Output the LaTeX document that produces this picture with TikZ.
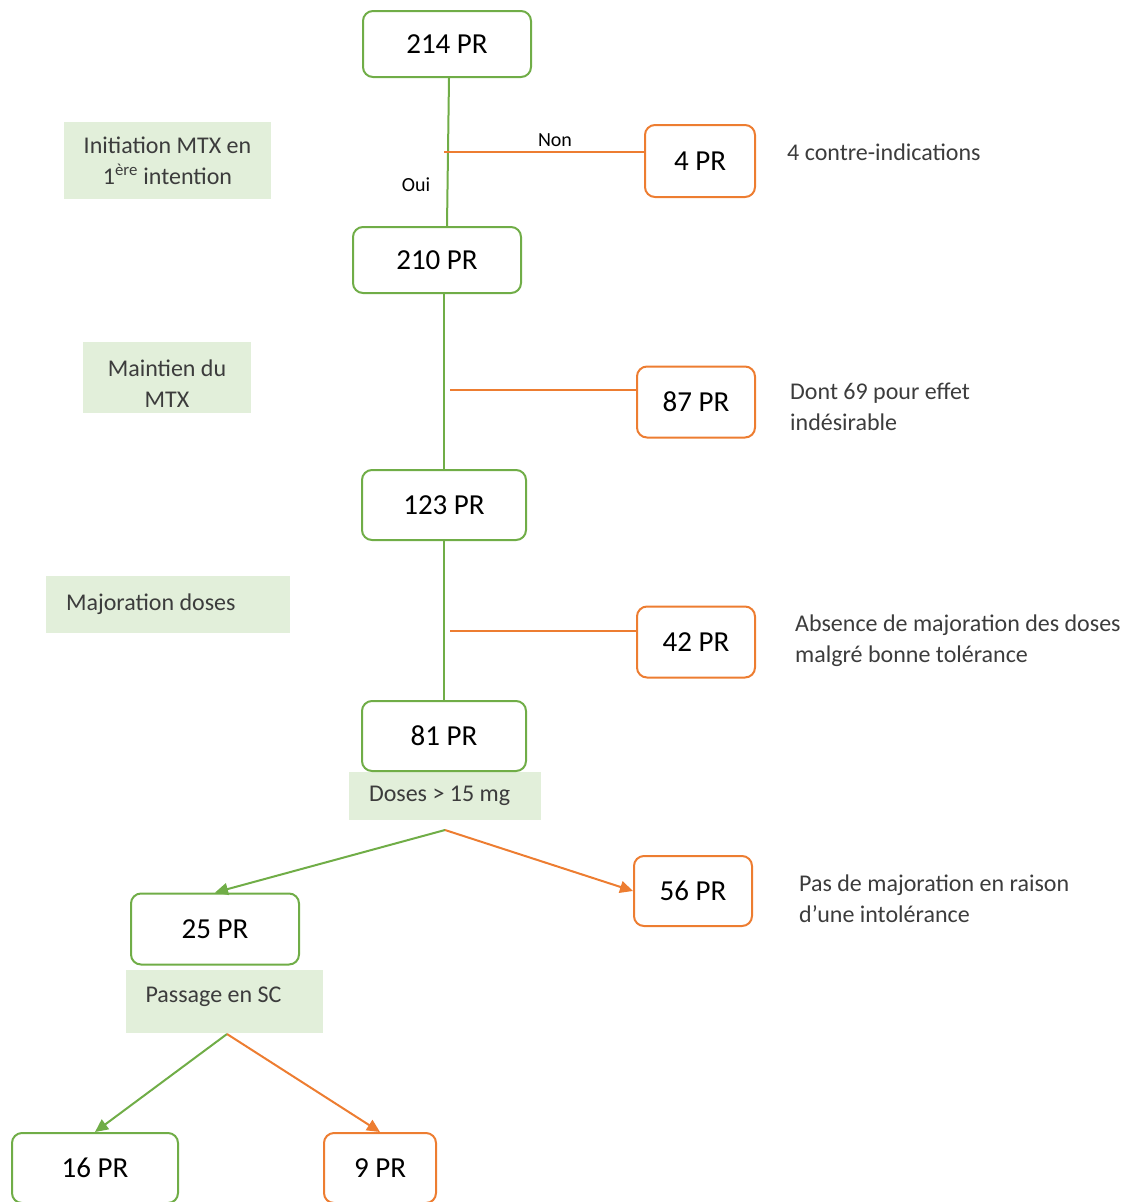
\documentclass[tikz,border=0pt]{standalone}
\usepackage{fontspec}
\setmainfont{Carlito}
\usetikzlibrary{arrows.meta}
\definecolor{vert}{RGB}{112,173,71}
\definecolor{orangepr}{RGB}{237,125,49}
\definecolor{vertclair}{RGB}{226,239,218}
\definecolor{texte}{RGB}{60,60,60}

\begin{document}
\begin{tikzpicture}[x=1pt, y=-1pt,
	boxv/.style={draw=vert, line width=2pt, rounded corners=10pt, inner sep=0pt, font=\fontsize{29}{32}\selectfont},
	boxo/.style={boxv, draw=orangepr},
	etape/.style={fill=vertclair, inner sep=0pt, font=\fontsize{24}{31}\selectfont, text=texte},
	note/.style={anchor=west, align=left, inner sep=0pt, font=\fontsize{24}{31}\selectfont, text=texte},
	lienv/.style={vert, line width=2pt},
	lieno/.style={orangepr, line width=2pt},
	fl/.style={-{Triangle[length=13pt,width=12pt]}}]

	\useasboundingbox (0,0) rectangle (1134,1202);

	% etapes
	\node[etape, minimum width=207, minimum height=77, align=center] (init) at (167.5,160.5) {Initiation MTX en\\1\textsuperscript{ère} intention};
	\node[etape, minimum width=168, minimum height=71, align=center, text height=59pt] (maint) at (167,377.5) {Maintien du\\MTX};
	\node[etape, minimum width=244, minimum height=57, text width=204, align=flush left] (major) at (168,604.5) {Majoration doses};
	\node[etape, minimum width=192, minimum height=48, text width=152, align=flush left] (doses) at (445,796) {Doses > 15 mg};
	\node[etape, minimum width=197, minimum height=63, text width=158, align=flush left, text depth=14pt] (sc) at (224.5,1001.5) {Passage en SC};

	% effectifs
	\node[boxv, minimum width=168, minimum height=66] (n214) at (447,44) {214 PR};
	\node[boxo, minimum width=110, minimum height=72] (n4) at (700,161) {4 PR};
	\node[boxv, minimum width=168, minimum height=66] (n210) at (437,260) {210 PR};
	\node[boxo, minimum width=118, minimum height=71] (n87) at (696,402) {87 PR};
	\node[boxv, minimum width=164, minimum height=70] (n123) at (444,505) {123 PR};
	\node[boxo, minimum width=118, minimum height=71] (n42) at (696,642) {42 PR};
	\node[boxv, minimum width=164, minimum height=70] (n81) at (444,736) {81 PR};
	\node[boxv, minimum width=168, minimum height=71] (n25) at (215,929) {25 PR};
	\node[boxo, minimum width=118, minimum height=70] (n56) at (693,891) {56 PR};
	\node[boxv, minimum width=166, minimum height=70] (n16) at (95,1168) {16 PR};
	\node[boxo, minimum width=112, minimum height=70] (n9) at (380,1168) {9 PR};

	% commentaires
	\node[note] (t4) at (787,152) {4 contre-indications};
	\node[note] (t87) at (790,407) {Dont 69 pour effet\\indésirable};
	\node[note] (t42) at (795,641) {Absence de majoration des doses\\malgré bonne tolérance};
	\node[note] (t56) at (799,899) {Pas de majoration en raison\\d’une intolérance};

	% liens
	\coordinate (b4) at (444,152);
	\coordinate (b87) at (450,390);
	\coordinate (b42) at (450,631);
	\coordinate (d1) at (445,830);
	\coordinate (s1) at (227,1034);

	\draw[lienv] ([xshift=2]n214.south) -- ([xshift=10]n210.north);
	\draw[lieno] (b4) -- (b4 -| n4.west);
	\node[black, font=\fontsize{20}{22}\selectfont] (non) at (555,140) {Non};
	\node[black, font=\fontsize{20}{22}\selectfont] (oui) at (416,185) {Oui};
	\draw[lienv] ([xshift=7]n210.south) -- (n123.north);
	\draw[lieno] (b87) -- (b87 -| n87.west);
	\draw[lienv] (n123.south) -- (n81.north);
	\draw[lieno] (b42) -- (b42 -| n42.west);
	\draw[lienv, fl] (d1) -- (n25.north);
	\draw[lieno, fl] (d1) -- (n56.west);
	\draw[lienv, fl] (s1) -- (n16.north);
	\draw[lieno, fl] (s1) -- (n9.north);

\end{tikzpicture}
\end{document}
